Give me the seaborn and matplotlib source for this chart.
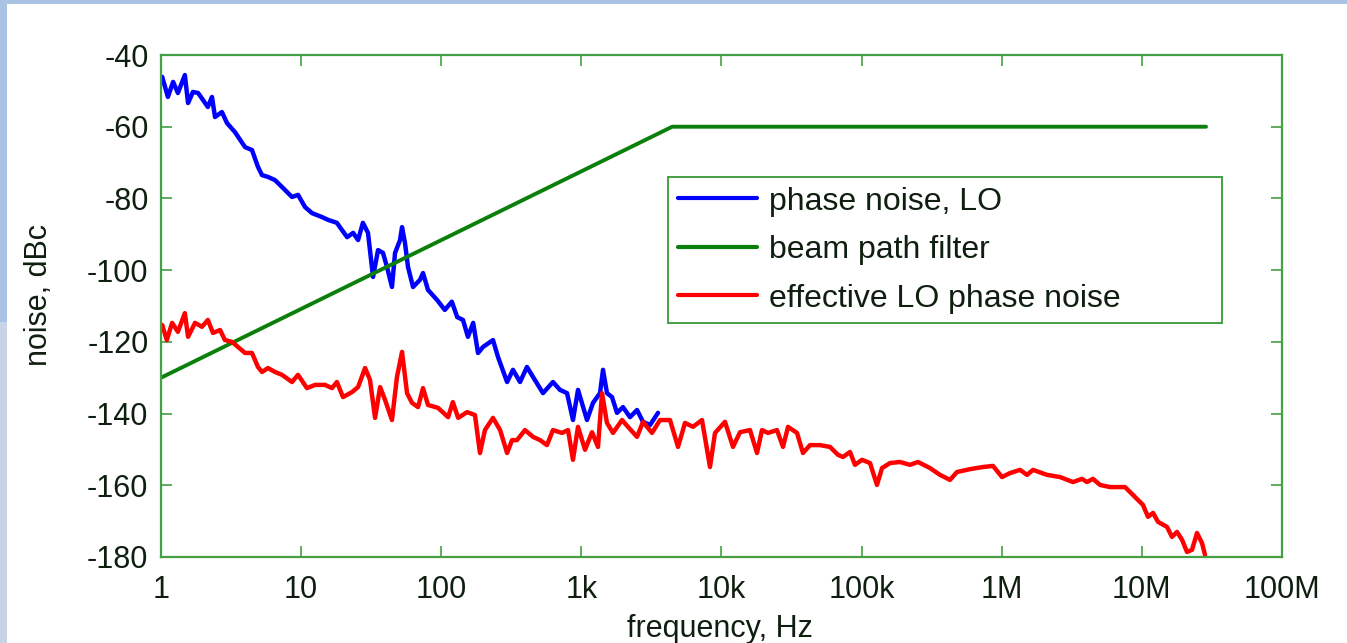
import matplotlib
matplotlib.use("Agg")
import matplotlib.pyplot as plt
import seaborn as sns
import pandas as pd
from matplotlib.patches import Rectangle

# ---------------- data ----------------
blue_freq = [1.0, 1.02, 1.12, 1.22, 1.32, 1.48, 1.56, 1.69, 1.84, 1.99, 2.16, 2.31, 2.43,
             2.72, 2.96, 3.37, 3.98, 4.46, 4.92, 5.26, 5.80, 6.51, 7.30, 8.61, 9.50, 10.66,
             11.96, 14.1, 15.6, 18.0, 18.9, 21.3, 23.5, 25.5, 27.6, 30.0, 32.6, 35.4, 38.4,
             41.0, 44.5, 46.8, 50.8, 52.5, 55.1, 57.9, 62.9, 70.5, 74.1, 80.4, 93.3, 106,
             119, 130, 143, 155, 169, 183, 199, 234, 254, 295, 325, 365, 409, 452, 532, 627,
             704, 790, 871, 946, 1097, 1211, 1358, 1427, 1523, 1654, 1796, 1982, 2223, 2495,
             2753, 3088, 3523]
blue_db = [-46.5, -46.1, -51.7, -47.5, -50.6, -45.6, -53.4, -50.3, -50.6, -52.5, -54.5, -51.7,
           -57.3, -55.9, -59.0, -61.5, -65.7, -66.5, -71.2, -73.5, -74.0, -74.9, -76.8, -79.6,
           -79.0, -82.4, -84.1, -85.2, -86.0, -86.8, -88.0, -90.8, -89.6, -91.6, -86.8, -89.6,
           -101.9, -94.4, -95.2, -99.1, -104.7, -95.2, -91.6, -88.0, -92.4, -99.1, -104.7,
           -102.7, -100.8, -105.5, -108.3, -111.1, -108.8, -113.1, -113.9, -118.6, -114.7,
           -123.1, -121.4, -119.5, -124.2, -131.2, -127.8, -131.2, -127.0, -129.8, -134.3,
           -131.2, -133.4, -134.3, -141.8, -133.4, -141.8, -137.0, -134.3, -127.8, -134.3,
           -135.4, -139.8, -138.2, -141.0, -139.0, -142.3, -143.2, -139.8]

green_freq = [1.0, 4450, 2.87e7]
green_db = [-130.0, -60.0, -60.0]

red_freq = [1.0, 1.02, 1.10, 1.20, 1.32, 1.48, 1.56, 1.75, 1.96, 2.16, 2.35, 2.64, 2.86, 3.21,
            3.54, 3.98, 4.46, 4.92, 5.26, 5.80, 6.51, 7.30, 8.61, 9.50, 11.0, 12.6, 14.8, 16.6,
            18.0, 19.9, 23.1, 25.5, 28.6, 31.0, 33.7, 36.6, 39.7, 44.5, 48.3, 52.5, 57.0, 61.8,
            68.3, 74.1, 80.4, 94.8, 112, 121, 132, 153, 174, 189, 205, 234, 263, 295, 320, 347,
            396, 452, 507, 568, 627, 727, 803, 871, 946, 1062, 1191, 1314, 1404, 1523, 1682,
            1950, 2151, 2495, 2753, 3192, 3640, 4291, 4894, 5490, 6262, 7258, 8278, 8986,
            10590, 12080, 13550, 15970, 17920, 19450, 21470, 24890, 27480, 29830, 34580,
            38160, 42810, 50480, 59480, 67810, 73640, 82610, 89680, 100600, 114800, 128700,
            139800, 159400, 187900, 221400, 252600, 307600, 362500, 427200, 479200, 593400,
            734800, 866100, 1004000, 1145000, 1350000, 1515000, 1671000, 2103000, 2604000,
            3225000, 3739000, 4059000, 4480000, 5026000, 5922000, 7578000, 8644000,
            10190000, 11060000, 12010000, 13040000, 15110000, 16410000, 17810000, 19340000,
            21000000, 22790000, 24740000, 26860000, 28220000]
red_db = [-116.0, -115.3, -119.5, -114.7, -117.2, -112.0, -118.6, -114.7, -115.8, -113.9,
          -117.5, -116.7, -119.5, -120.0, -121.4, -123.1, -123.1, -127.0, -128.4, -127.3,
          -128.4, -129.2, -131.2, -129.2, -132.9, -132.0, -132.0, -132.9, -131.2, -135.4,
          -134.0, -132.6, -127.3, -130.6, -141.2, -132.6, -136.2, -141.8, -129.8, -122.8,
          -134.3, -137.0, -138.2, -132.9, -137.6, -138.4, -141.0, -136.8, -141.2, -139.6,
          -140.4, -151.0, -144.6, -141.2, -144.6, -151.0, -147.4, -147.4, -144.6, -146.5,
          -147.4, -148.8, -144.6, -145.4, -144.6, -152.9, -143.7, -150.1, -145.2, -149.3,
          -134.3, -142.6, -145.4, -141.8, -143.7, -146.5, -142.3, -145.4, -141.8, -141.8,
          -149.3, -142.6, -143.7, -141.8, -154.9, -145.4, -142.3, -149.3, -145.2, -144.6,
          -151.0, -144.6, -145.4, -144.6, -149.3, -143.7, -145.4, -151.0, -148.8, -148.8,
          -149.3, -151.5, -152.1, -150.7, -154.3, -152.9, -153.8, -159.9, -155.2, -153.8,
          -153.5, -154.3, -153.5, -155.2, -157.1, -158.5, -156.3, -155.5, -154.9, -154.6,
          -157.7, -156.6, -155.7, -157.1, -155.7, -157.1, -157.7, -159.1, -158.2, -159.1,
          -158.2, -159.9, -160.5, -160.5, -162.7, -165.5, -168.8, -167.7, -170.2, -171.6,
          -174.4, -173.0, -175.2, -178.6, -178.0, -173.3, -176.1, -179.4]

series_names = ["phase noise, LO", "beam path filter", "effective LO phase noise"]
x_ticks = [1, 10, 100, 1e3, 1e4, 1e5, 1e6, 1e7, 1e8]
x_tick_labels = ["1", "10", "100", "1k", "10k", "100k", "1M", "10M", "100M"]
y_ticks = [-180, -160, -140, -120, -100, -80, -60, -40]
y_tick_labels = ["-180", "-160", "-140", "-120", "-100", "-80", "-60", "-40"]

# ---------------- styling ----------------
sns.set_theme(style="white")
plt.rcParams["font.family"] = ["Liberation Sans", "DejaVu Sans"]
text_color = "#0f1f0f"
frame_green = "#43a043"

fig = plt.figure(figsize=(13.47, 6.43), dpi=100)
fig.patch.set_facecolor("#a9c3e4")
# white page area (blue band on top and left)
fig.patches.append(Rectangle((7 / 1347, 0), 1 - 7 / 1347, 1 - 4 / 643,
                             transform=fig.transFigure, facecolor="white",
                             edgecolor="none", zorder=-10))
fig.patches.append(Rectangle((0, 0), 7 / 1347, 0.5, transform=fig.transFigure,
                             facecolor="#c9d3e6", edgecolor="none", zorder=-10))

ax = fig.add_axes([161 / 1347, 1 - 557 / 643, (1282 - 161) / 1347, (557 - 55) / 643])
ax.set_facecolor("white")

df_blue = pd.DataFrame({"f": blue_freq, "db": blue_db})
df_green = pd.DataFrame({"f": green_freq, "db": green_db})
df_red = pd.DataFrame({"f": red_freq, "db": red_db})

sns.lineplot(data=df_blue, x="f", y="db", ax=ax, color="#0000ff", lw=3.2,
             estimator=None, sort=False, label=series_names[0])
sns.lineplot(data=df_green, x="f", y="db", ax=ax, color="#0a800a", lw=2.8,
             estimator=None, sort=False, label=series_names[1])
sns.lineplot(data=df_red, x="f", y="db", ax=ax, color="#ff0000", lw=3.2,
             estimator=None, sort=False, label=series_names[2])

ax.set_xscale("log")
ax.set_xlim(1, 1e8)
ax.set_ylim(-180, -40)
ax.set_xticks(x_ticks)
ax.set_xticklabels(x_tick_labels)
ax.set_yticks(y_ticks)
ax.set_yticklabels(y_tick_labels)
ax.minorticks_off()
ax.tick_params(axis="both", which="major", direction="in", length=8, width=1.2,
               color=frame_green, labelsize=22, labelcolor=text_color,
               top=True, right=True, left=True, bottom=True)
ax.tick_params(axis="x", pad=13)
ax.tick_params(axis="y", pad=9)
for s in ax.spines.values():
    s.set_color(frame_green)
    s.set_linewidth(1.6)
    s.set_visible(True)

ax.set_xlabel("frequency, Hz", fontsize=22, color=text_color)
ax.set_ylabel("noise, dBc", fontsize=22, color=text_color)
ax.xaxis.set_label_coords(0.499, -(614 - 557) / 502)
ax.yaxis.set_label_coords(-(161 - 54) / 1121, 1 - (295 - 55) / 502)

x0 = (668 - 161) / 1121
x1 = (1222 - 161) / 1121
ytop = 1 - (177 - 55) / 502
ybot = 1 - (324 - 55) / 502
leg = ax.legend(loc="upper left", bbox_to_anchor=(x0, ybot, x1 - x0, ytop - ybot),
                mode="expand", borderaxespad=0, fontsize=23, frameon=True, fancybox=False,
                handlelength=2.5, handletextpad=0.35, labelspacing=0.58, borderpad=0.3)
leg.get_frame().set_edgecolor(frame_green)
leg.get_frame().set_linewidth(1.4)
leg.get_frame().set_facecolor("white")
leg.get_frame().set_alpha(1)
for t in leg.get_texts():
    t.set_color(text_color)
for h in leg.get_lines():
    h.set_linewidth(3)

fig.savefig("out.png", dpi=100, facecolor=fig.get_facecolor())
